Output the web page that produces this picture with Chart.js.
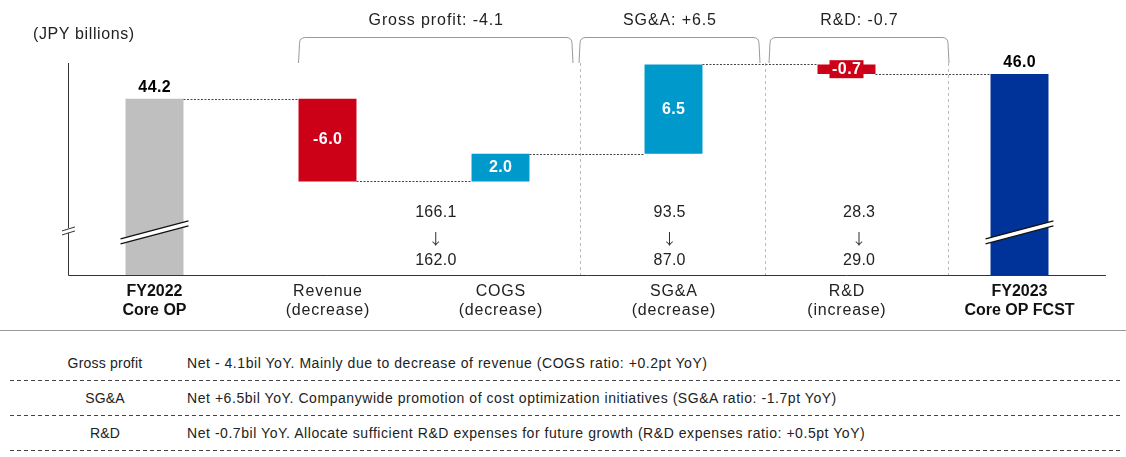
<!DOCTYPE html>
<html>
<head>
<meta charset="utf-8">
<script src="https://cdn.jsdelivr.net/npm/chart.js@4.4.0/dist/chart.umd.min.js"></script>
<style>
  body { margin: 0; background: #fff; font-family: 'Liberation Sans', Arial, sans-serif; color: #222; }
  #wrap { position: relative; width: 1126px; height: 330px; }
  #notes { position: relative; width: 1126px; height: 126px; border-top: 1px solid #999; }
  .row { position: absolute; left: 10px; width: 1110px; height: 35px; font-size: 14px; }
  .row .k { position: absolute; left: 0; width: 190px; text-align: center; top: 9px; letter-spacing: 0.2px; }
  .row .v { position: absolute; left: 177px; top: 9px; white-space: nowrap; letter-spacing: 0.55px; }
  .row .d { position: absolute; left: 0; right: 0; bottom: 0; height: 1px;
    background: repeating-linear-gradient(to right, #444 0 4px, transparent 4px 7px); }
</style>
</head>
<body>
<div id="wrap"><canvas id="chart"></canvas></div>
<div id="notes"></div>
<script>
let categories = [
  ['FY2022', 'Core OP'],
  ['Revenue', '(decrease)'],
  ['COGS', '(decrease)'],
  ['SG&A', '(decrease)'],
  ['R&D', '(increase)'],
  ['FY2023', 'Core OP FCST'],
]
let startValue = 44.2
let changes = [-6.0, 2.0, 6.5, -0.7]
let endValue = 46.0
let axisMin = 31.4
let axisMax = 46.8

let groupTitles = ['Gross profit: -4.1', 'SG&A: +6.5', 'R&D: -0.7']
let beforeAfter = [['166.1', '162.0'], ['93.5', '87.0'], ['28.3', '29.0']]

let noteKeys = ['Gross profit', 'SG&A', 'R&D']
let noteTexts = [
  'Net - 4.1bil YoY. Mainly due to decrease of revenue (COGS ratio: +0.2pt YoY)',
  'Net +6.5bil YoY. Companywide promotion of cost optimization initiatives (SG&A ratio: -1.7pt YoY)',
  'Net -0.7bil YoY. Allocate sufficient R&D expenses for future growth (R&D expenses ratio: +0.5pt YoY)',
]

let colors = ['#bfbfbf', '#cc0016', '#0099cc', '#0099cc', '#cc0016', '#003399']

// floating bars for the waterfall
let bars = [[axisMin, startValue]]
let levels = [startValue]
changes.forEach((c, i) => {
  let next = Math.round((levels[i] + c) * 10) / 10
  bars.push([Math.min(levels[i], next), Math.max(levels[i], next)])
  levels.push(next)
})
bars.push([axisMin, endValue])
let labels = [startValue.toFixed(1)].concat(changes.map((c) => c.toFixed(1)), [endValue.toFixed(1)])

let FONT = "'Liberation Sans', Arial, sans-serif"

function txt(ctx, s, x, y, font, color, spacing) {
  ctx.font = font
  ctx.fillStyle = color
  ctx.letterSpacing = (spacing || 0) + 'px'
  ctx.textAlign = 'center'
  ctx.textBaseline = 'middle'
  // letter spacing adds a trailing gap; shift to keep centred
  ctx.fillText(s, x + (spacing || 0) / 2, y)
  ctx.letterSpacing = '0px'
}

let decor = {
  id: 'decor',
  afterDatasetsDraw(chart) {
    let ctx = chart.ctx
    let x = chart.scales.x
    let y = chart.scales.y
    let area = chart.chartArea
    let meta = chart.getDatasetMeta(0)
    ctx.save()

    // axes
    ctx.strokeStyle = '#333'
    ctx.lineWidth = 1
    ctx.beginPath()
    ctx.moveTo(area.left + 0.5, area.top)
    ctx.lineTo(area.left + 0.5, area.bottom + 0.5)
    ctx.lineTo(area.right, area.bottom + 0.5)
    ctx.stroke()

    // category labels
    categories.forEach((c, i) => {
      let px = x.getPixelForValue(i)
      let bold = i === 0 || i === categories.length - 1
      let f = bold ? 'bold 16px ' + FONT : '16px ' + FONT
      let col = bold ? '#111' : '#222'
      txt(ctx, c[0], px, area.bottom + 17, f, col, bold ? 0 : 0.8)
      txt(ctx, c[1], px, area.bottom + 36, f, col, bold ? 0 : 0.8)
    })

    // vertical separators
    let sep1 = (x.getPixelForValue(2) + x.getPixelForValue(3)) / 2 - 7
    let sep2 = (x.getPixelForValue(3) + x.getPixelForValue(4)) / 2 + 5
    let sep3 = (x.getPixelForValue(4) + x.getPixelForValue(5)) / 2 + 15
    ctx.strokeStyle = '#bbb'
    ctx.setLineDash([3, 3])
    ;[sep1, sep2, sep3].forEach((s) => {
      ctx.beginPath()
      ctx.moveTo(Math.round(s) + 0.5, area.top)
      ctx.lineTo(Math.round(s) + 0.5, area.bottom)
      ctx.stroke()
    })

    // connectors between bars
    let connect = [startValue, levels[1], levels[2], bars[3][1], endValue]
    ctx.strokeStyle = '#444'
    ctx.setLineDash([2, 1.5])
    for (let i = 0; i < meta.data.length - 1; i++) {
      let a = meta.data[i]
      let b = meta.data[i + 1]
      let py = Math.round(y.getPixelForValue(connect[i])) + 0.5
      ctx.beginPath()
      ctx.moveTo(a.x + a.width / 2, py)
      ctx.lineTo(b.x - b.width / 2, py)
      ctx.stroke()
    }
    ctx.setLineDash([])

    // brackets, titles and before/after ratios
    let brackets = [
      [x.getPixelForValue(1) - meta.data[1].width / 2, sep1 - 7],
      [sep1 - 1, sep2 - 5],
      [sep2 + 4, sep3 + 1],
    ]
    ctx.strokeStyle = '#999'
    ctx.lineWidth = 1
    brackets.forEach((br, i) => {
      let l = br[0], r = br[1], t = 37.5, b = area.top, rad = 6
      ctx.beginPath()
      ctx.moveTo(l, b)
      ctx.lineTo(l + 1, t + rad)
      ctx.quadraticCurveTo(l + 1, t, l + 1 + rad, t)
      ctx.lineTo(r - 1 - rad, t)
      ctx.quadraticCurveTo(r - 1, t, r - 1, t + rad)
      ctx.lineTo(r, b)
      ctx.stroke()
      let cx = (l + r) / 2
      txt(ctx, groupTitles[i], cx, 21, '16px ' + FONT, '#222', 0.9)
      txt(ctx, beforeAfter[i][0], cx, 213, '16px ' + FONT, '#222', 0.3)
      txt(ctx, '\u2193', cx, 238, '15px "Noto Sans CJK JP"', '#333', 0)
      txt(ctx, beforeAfter[i][1], cx, 261, '16px ' + FONT, '#222', 0.3)
    })

    // value labels
    meta.data.forEach((el, i) => {
      let top = Math.min(el.y, el.base)
      let bot = Math.max(el.y, el.base)
      if (i === 0 || i === meta.data.length - 1) {
        txt(ctx, labels[i], el.x, top - 11, 'bold 16px ' + FONT, '#000', 0.4)
      } else {
        let cy = (top + bot) / 2
        if (bot - top < 20) {
          ctx.fillStyle = colors[i]
          ctx.fillRect(el.x - 17, cy - 9, 34, 18)
        }
        txt(ctx, labels[i], el.x, cy, 'bold 16px ' + FONT, '#fff', 0.4)
      }
    })

    // break marks on the total bars
    ;[0, meta.data.length - 1].forEach((i) => {
      let el = meta.data[i]
      let cy = y.getPixelForValue(34.6)
      let l = el.x - el.width / 2 - 5, r = el.x + el.width / 2 + 5
      ctx.fillStyle = '#fff'
      ctx.beginPath()
      ctx.moveTo(l, cy + 8)
      ctx.lineTo(r, cy - 10)
      ctx.lineTo(r, cy - 5)
      ctx.lineTo(l, cy + 13)
      ctx.closePath()
      ctx.fill()
      ctx.strokeStyle = '#111'
      ctx.lineWidth = 1.2
      ctx.beginPath()
      ctx.moveTo(l, cy + 8)
      ctx.lineTo(r, cy - 10)
      ctx.moveTo(l, cy + 13)
      ctx.lineTo(r, cy - 5)
      ctx.stroke()
    })

    // break mark on the y axis
    let ay = y.getPixelForValue(34.6)
    ctx.fillStyle = '#fff'
    ctx.fillRect(area.left - 2, ay - 3, 4, 5)
    ctx.strokeStyle = '#333'
    ctx.lineWidth = 1
    ctx.beginPath()
    ctx.moveTo(area.left - 6, ay)
    ctx.lineTo(area.left + 7, ay - 4)
    ctx.moveTo(area.left - 6, ay + 4)
    ctx.lineTo(area.left + 7, ay)
    ctx.stroke()

    // unit
    ctx.font = '16px ' + FONT
    ctx.fillStyle = '#222'
    ctx.letterSpacing = '0.6px'
    ctx.textAlign = 'left'
    ctx.textBaseline = 'middle'
    ctx.fillText('(JPY billions)', 33, 35)
    ctx.restore()
  },
}

new Chart(document.getElementById('chart'), {
  type: 'bar',
  data: {
    labels: categories,
    datasets: [{
      data: bars,
      backgroundColor: colors,
      borderWidth: 0,
      categoryPercentage: 1,
      barPercentage: 0.335,
    }],
  },
  options: {
    responsive: true,
    maintainAspectRatio: false,
    animation: false,
    layout: { padding: { left: 68, right: 20, top: 63, bottom: 55 } },
    plugins: { legend: { display: false }, tooltip: { enabled: false } },
    scales: {
      x: { display: false },
      y: { display: false, min: axisMin, max: axisMax },
    },
  },
  plugins: [decor],
})

let notes = document.getElementById('notes')
noteKeys.forEach((k, i) => {
  let row = document.createElement('div')
  row.className = 'row'
  row.style.top = (15 + i * 35) + 'px'
  row.innerHTML = `<div class="k"></div><div class="v"></div><div class="d"></div>`
  row.querySelector('.k').textContent = k
  row.querySelector('.v').textContent = noteTexts[i]
  notes.appendChild(row)
})
</script>
</body>
</html>
